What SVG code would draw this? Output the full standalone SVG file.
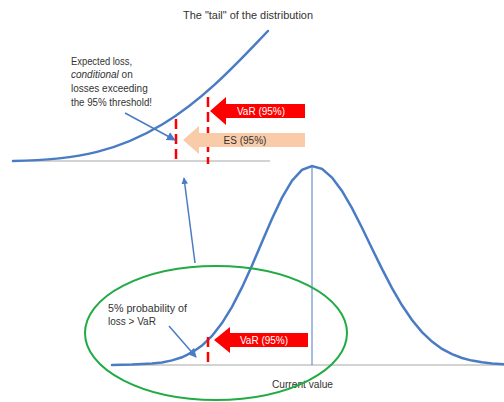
<svg xmlns="http://www.w3.org/2000/svg" width="504" height="402" viewBox="0 0 504 402">
<defs>
<style>
.t{font-family:"Liberation Sans",Arial,sans-serif;font-size:10px;fill:#333333}
.w{font-family:"Liberation Sans",Arial,sans-serif;font-size:10px;fill:#ffffff}
.d{font-family:"Liberation Sans",Arial,sans-serif;font-size:10px;fill:#333333}
.curve{fill:none;stroke:#4A7CC4;stroke-width:2.5;stroke-linecap:round}
.base{stroke:#A6A6A6;stroke-width:1}
.dash{stroke:#FF0000;stroke-width:2.5;stroke-dasharray:10 5}
.ptr{stroke:#4A7CC4;stroke-width:1.5;fill:none}
</style>
<marker id="ah" viewBox="0 0 10 10" refX="9" refY="5" markerWidth="6" markerHeight="6" markerUnits="strokeWidth" orient="auto">
<path d="M0,0 L10,5 L0,10 z" fill="#4A7CC4"/>
</marker>
<marker id="ah2" viewBox="0 0 10 10" refX="9" refY="5" markerWidth="4.4" markerHeight="4.4" markerUnits="strokeWidth" orient="auto">
<path d="M0,0 L10,5 L0,10 z" fill="#4A7CC4"/>
</marker>
</defs>
<rect width="504" height="402" fill="#ffffff"/>

<g id="tail-plot">
<line class="base" x1="13" y1="161" x2="270" y2="161"/>
<path class="curve" d="M13,161 C80,160 120,150 163,124 S240,60 268,31"/>
<text class="t" x="183" y="19" textLength="130" lengthAdjust="spacingAndGlyphs">The "tail" of the distribution</text>
</g>

<g id="es-label">
<text class="t" x="71" y="65" textLength="61" lengthAdjust="spacingAndGlyphs">Expected loss,</text>
<text class="t" x="71" y="78"><tspan font-style="italic">conditional</tspan> on</text>
<text class="t" x="71" y="92">losses exceeding</text>
<text class="t" x="71" y="106" textLength="81" lengthAdjust="spacingAndGlyphs">the 95% threshold!</text>
</g>

<g id="top-dashes">
<line class="dash" x1="176" y1="119" x2="176" y2="164"/>
<line class="dash" x1="208" y1="97" x2="208" y2="164"/>
</g>

<g id="var-top">
<polygon points="210,111 226,97 226,104 305,104 305,118 226,118 226,125" fill="#FF0000"/>
<text class="w" x="261" y="115" text-anchor="middle">VaR (95%)</text>
</g>

<g id="es-top">
<polygon points="183,140 199,126 199,133 305,133 305,147 199,147 199,154" fill="#F9CBA8"/>
<text class="d" x="245" y="144" text-anchor="middle">ES (95%)</text>
</g>

<g id="bell-plot">
<line class="base" x1="112" y1="365" x2="504" y2="365"/>
<line x1="312" y1="166" x2="312" y2="365" stroke="#4A7CC4" stroke-width="1"/>
<path class="curve" d="M112,365 L132,364.6 L152,363.5 L162,362.4 L172,360.4 L182,357.3 L192,352.5 L202,345.6 L212,335.9 L222,323.1 L232,306.8 L242,287.4 L252,265.4 L262,241.9 L272,218.7 L282,197.6 L292,180.7 L302,169.8 L312,166 L322,168.9 L332,177.5 L342,190.9 L352,208.1 L362,227.8 L372,248.5 L382,268.9 L392,288.1 L402,305.3 L412,320 L422,332.1 L432,341.6 L442,348.9 L452,354.2 L462,358 L472,360.6 L482,362.3 L492,363.4 L504,364.2"/>
<text class="d" x="272" y="388" textLength="61" lengthAdjust="spacingAndGlyphs">Current value</text>
</g>

<g id="bottom-dash">
<line class="dash" x1="208" y1="337" x2="208" y2="366"/>
</g>

<g id="var-bottom">
<polygon points="214,340 230,327 230,333 308,333 308,347 230,347 230,353" fill="#FF0000"/>
<text class="w" x="264" y="344" text-anchor="middle">VaR (95%)</text>
</g>

<g id="prob-label">
<text class="t" x="108" y="312" textLength="79" lengthAdjust="spacingAndGlyphs">5% probability of</text>
<text class="t" x="108" y="325">loss &gt; VaR</text>
</g>

<g id="highlight">
<ellipse cx="216" cy="333" rx="131" ry="67" fill="none" stroke="#22AA44" stroke-width="2"/>
</g>

<g id="connectors">
<line class="ptr" x1="125" y1="113" x2="175" y2="140" marker-end="url(#ah)"/>
<line class="ptr" x1="169" y1="326" x2="196" y2="357" marker-end="url(#ah)"/>
<line class="ptr" x1="195" y1="263" x2="184" y2="178" stroke-width="2.5" marker-end="url(#ah2)"/>
</g>
</svg>
